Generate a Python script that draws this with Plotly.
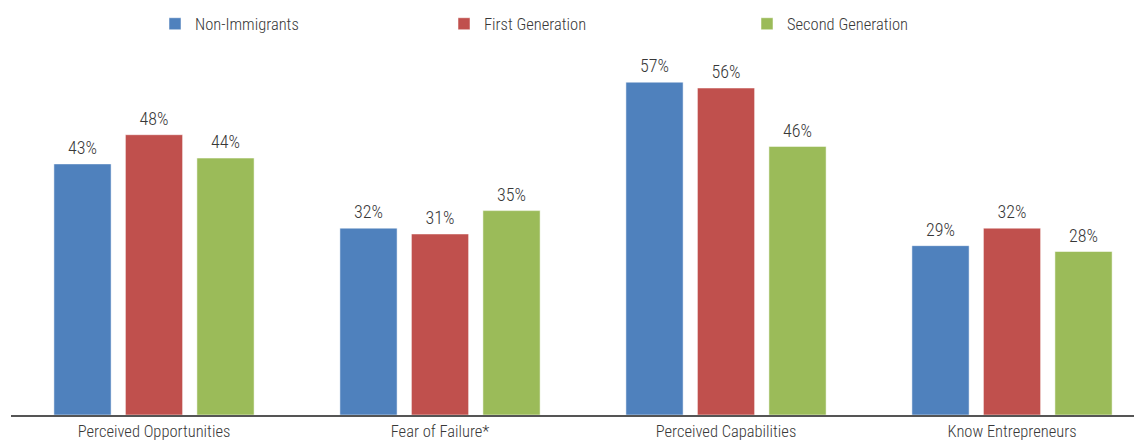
import plotly.graph_objects as go

categories = ["Perceived Opportunities", "Fear of Failure*", "Perceived Capabilities", "Know Entrepreneurs"]
series_names = ["Non-Immigrants", "First Generation", "Second Generation"]
non_immigrants = [43, 32, 57, 29]
first_generation = [48, 31, 56, 32]
second_generation = [44, 35, 46, 28]
colors = ["#4F81BD", "#C0504D", "#9BBB59"]

FONT = "Roboto Condensed, Liberation Sans, sans-serif"
TXT = "#383838"
FS = 16.5
FS_LABEL = 18

# page body has an 8px margin; figure is sized so the visible window matches
W, H = 1134, 437

fig = go.Figure()
legend_ids = ["legend", "legend2", "legend3"]
all_vals = [non_immigrants, first_generation, second_generation]
for i, (name, vals, col, lg) in enumerate(zip(series_names, all_vals, colors, legend_ids)):
    fig.add_trace(go.Bar(
        x=categories, y=vals, name=name,
        marker=dict(color=col, line=dict(color="rgba(255,255,255,0.5)", width=1)),
        offsetgroup=str(i),
        legend=lg, showlegend=True,
        hoverinfo="skip",
    ))
for i, (name, vals) in enumerate(zip(series_names, all_vals)):
    fig.add_trace(go.Scatter(
        x=categories, y=vals, mode="markers+text",
        text=[f"{v}%" for v in vals], textposition="top center",
        textfont=dict(family=FONT, size=FS_LABEL, color=TXT, weight=300),
        marker=dict(size=7, opacity=0),
        offsetgroup=str(i), showlegend=False, hoverinfo="skip",
        cliponaxis=False,
    ))

leg_common = dict(orientation="h", yanchor="middle", xanchor="left", xref="container", yref="container",
                  y=1 - 16 / H, font=dict(family=FONT, size=FS, color=TXT, weight=300),
                  bgcolor="rgba(0,0,0,0)", itemwidth=30)

def lx(text_ref_px):
    return (text_ref_px - 8 - 40) / W

fig.update_layout(
    width=W, height=H,
    margin=dict(l=3, r=0, t=0, b=30, autoexpand=False),
    paper_bgcolor="white", plot_bgcolor="white",
    barmode="group", bargap=0.25, bargroupgap=0.2,
    scattermode="group", scattergap=0.25,
    showlegend=True,
    font=dict(family=FONT, size=FS, color=TXT),
    legend=dict(**leg_common, x=lx(195)),
    legend2=dict(**leg_common, x=lx(484)),
    legend3=dict(**leg_common, x=lx(787)),
    xaxis=dict(
        type="category", range=[-0.5, 3.4545],
        showline=True, linecolor="#555555", linewidth=2,
        showgrid=False, ticks="", zeroline=False,
        tickfont=dict(family=FONT, size=FS, color=TXT, weight=300),
    ),
    yaxis=dict(range=[0, 69.7], visible=False, showgrid=False, zeroline=False),
)

fig.write_html("out.html")
